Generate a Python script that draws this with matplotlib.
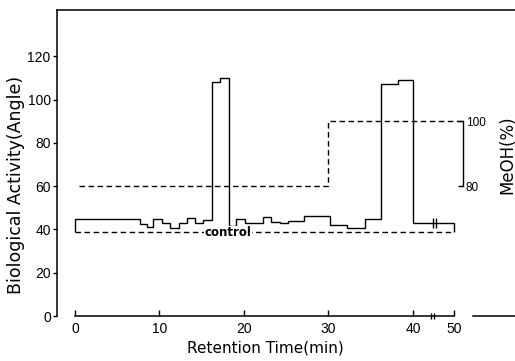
import numpy as np
import matplotlib
matplotlib.use("Agg")
import matplotlib.pyplot as plt

plt.rcParams['font.family'] = ['Liberation Sans', 'DejaVu Sans']

# biological activity (step trace): segment edges (min) and levels (angle)
act_t = [0, 7.7, 8.5, 9.2, 10.3, 11.2, 12.3, 13.3, 14.2, 15.1, 16.2, 17.2, 18.2,
         19.1, 20.1, 21.1, 22.2, 23.2, 24.3, 25.2, 27.1, 30.2, 32.2, 34.3, 36.2,
         38.2, 40.0, 50.0]
act_v = [45.0, 42.5, 41.3, 44.8, 43.0, 40.8, 43.0, 45.2, 43.0, 44.6, 108.2, 110.2,
         41.7, 44.8, 42.8, 43.2, 45.8, 43.4, 42.8, 43.7, 46.1, 42.0, 40.7, 44.8,
         107.3, 109.1, 43.2]

# control level
control_t = [0, 50]
control_v = [39, 39]

# MeOH gradient (%)
meoh_t = [0.5, 30, 30, 52.2]
meoh_pct = [80, 80, 100, 100]

x_ticks = [0, 10, 20, 30, 40, 50]
y_ticks = [0, 20, 40, 60, 80, 100, 120]
meoh_ticks = [80, 100]

axis_break_t = [44.5, 45.1]
trace_break_t = [44.9, 45.6]

# x axis is compressed after 40 min
K = 0.485
def fwd(x):
    x = np.asarray(x, dtype=float)
    return np.where(x <= 40, x, 40 + (x - 40) * K)

def inv(y):
    y = np.asarray(y, dtype=float)
    return np.where(y <= 40, y, 40 + (y - 40) / K)

fig = plt.figure(figsize=(5.15, 3.61), dpi=100)
ax = fig.add_axes([57/515, 45/361, 458/515, 306/361])
ax.set_xscale('function', functions=(fwd, inv))
ax.set_xlim(-2.13, 64.9)
ax.set_ylim(0, 141.5)

ax.stairs(act_v, act_t, baseline=control_v[0], fill=False, color='k', lw=1.0)
ax.plot(control_t, control_v, color='k', lw=1.0, ls=(0, (4, 2.5)))
ax.text(18.1, 38.4, 'control', fontsize=8.5, fontweight='bold', ha='center',
        va='center', family='DejaVu Sans', bbox=dict(fc='white', ec='none', pad=0.5))
ax.plot(trace_break_t, [act_v[-1]] * 2, ls='none', marker='|', ms=7, mew=1.0, color='k')

# spines and ticks
ax.spines['right'].set_visible(False)
for s in ['left', 'top', 'bottom']:
    ax.spines[s].set_linewidth(1.1)
ax.spines['bottom'].set_bounds(0, 50)
ax.set_xticks(x_ticks)
ax.set_yticks(y_ticks)
ax.tick_params(axis='x', direction='in', length=4, width=1, labelsize=10, pad=4)
ax.tick_params(axis='y', direction='out', length=3, width=1, labelsize=10, pad=1.5)
ax.plot(axis_break_t, [0, 0], ls='none', marker='|', ms=5, mew=1.0, color='k', clip_on=False)
ax.plot([0.908, 1.0], [0, 0], color='k', lw=1.1, transform=ax.transAxes, clip_on=False)

ax.set_ylabel('Biological Activity(Angle)', fontsize=12.5, family='DejaVu Sans')
ax.yaxis.set_label_coords(-0.07, 0.428)
ax.set_xlabel('Retention Time(min)', fontsize=11, family='DejaVu Sans')
ax.xaxis.set_label_coords(0.454, -0.08)

# MeOH axis
ax2 = ax.twinx()
ax2.set_ylim(80 + (0 - 60) / 1.5, 80 + (141.5 - 60) / 1.5)
ax2.plot(meoh_t, meoh_pct, color='k', lw=1.0, ls=(0, (4, 2.5)))
for s in ['left', 'top', 'bottom']:
    ax2.spines[s].set_visible(False)
ax2.spines['right'].set_position(('data', meoh_t[-1]))
ax2.spines['right'].set_bounds(80, 100)
ax2.spines['right'].set_linewidth(1.0)
ax2.set_yticks(meoh_ticks)
ax2.tick_params(axis='y', direction='in', length=3.5, width=1, labelsize=8.5, pad=2)
ax.text(0.983, 0.526, 'MeOH(%)', rotation=90, fontsize=12, ha='center', va='center',
        family='DejaVu Sans', transform=ax.transAxes)

fig.savefig('out.png', dpi=100)
